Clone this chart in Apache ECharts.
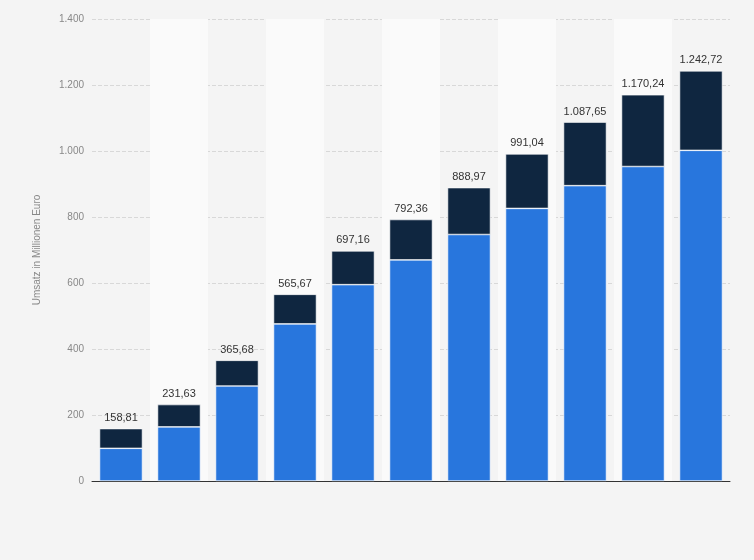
<!DOCTYPE html>
<html><head><meta charset="utf-8">
<script src="https://cdn.jsdelivr.net/npm/echarts@6/dist/echarts.min.js"></script>
<style>html,body{margin:0;background:#f4f4f4}#c{width:754px;height:560px}</style>
</head><body><div id="c"></div>
<script>
const categories = ['1','2','3','4','5','6','7','8','9','10','11'];
const totals = [158.81, 231.63, 365.68, 565.67, 697.16, 792.36, 888.97, 991.04, 1087.65, 1170.24, 1242.72];
const blueValues = [99, 164, 288, 476, 595, 670, 747, 826, 895, 953, 1002];
const darkValues = totals.map((t, i) => +(t - blueValues[i]).toFixed(2));
const yTicks = [0, 200, 400, 600, 800, 1000, 1200, 1400];

const fmt = v => v.toLocaleString('de-DE', {minimumFractionDigits: 2, maximumFractionDigits: 2});
const chart = echarts.init(document.getElementById('c'));
chart.setOption({
  backgroundColor: '#f4f4f4',
  animation: false,
  grid: {left: 92, right: 24, top: 19, bottom: 79},
  xAxis: {
    type: 'category', data: categories,
    axisLabel: {show: false}, axisTick: {show: false},
    axisLine: {lineStyle: {color: '#333', width: 1}},
    splitArea: {show: true, areaStyle: {color: ['rgba(0,0,0,0)', '#fafafa']}}
  },
  yAxis: {
    type: 'value', min: 0, max: 1400, interval: 200,
    name: 'Umsatz in Millionen Euro', nameLocation: 'middle', nameGap: 50,
    nameTextStyle: {color: '#888', fontSize: 10, fontFamily: 'Liberation Sans'},
    axisLabel: {color: '#888', fontSize: 10, fontFamily: 'Liberation Sans',
      formatter: v => v.toLocaleString('de-DE')},
    axisLine: {show: false}, axisTick: {show: false},
    splitLine: {lineStyle: {color: '#d8d8d8', type: 'dashed'}}
  },
  series: [
    {type: 'bar', stack: 's', data: blueValues, barWidth: '74%',
     itemStyle: {color: '#2876dd', borderColor: '#ffffff', borderWidth: 0.6}},
    {type: 'bar', stack: 's', data: darkValues,
     itemStyle: {color: '#0f2640', borderColor: '#ffffff', borderWidth: 0.6},
     label: {show: true, position: 'top', color: '#333', fontSize: 11, fontFamily: 'Liberation Sans',
       formatter: p => fmt(totals[p.dataIndex])}}
  ]
});
</script></body></html>
